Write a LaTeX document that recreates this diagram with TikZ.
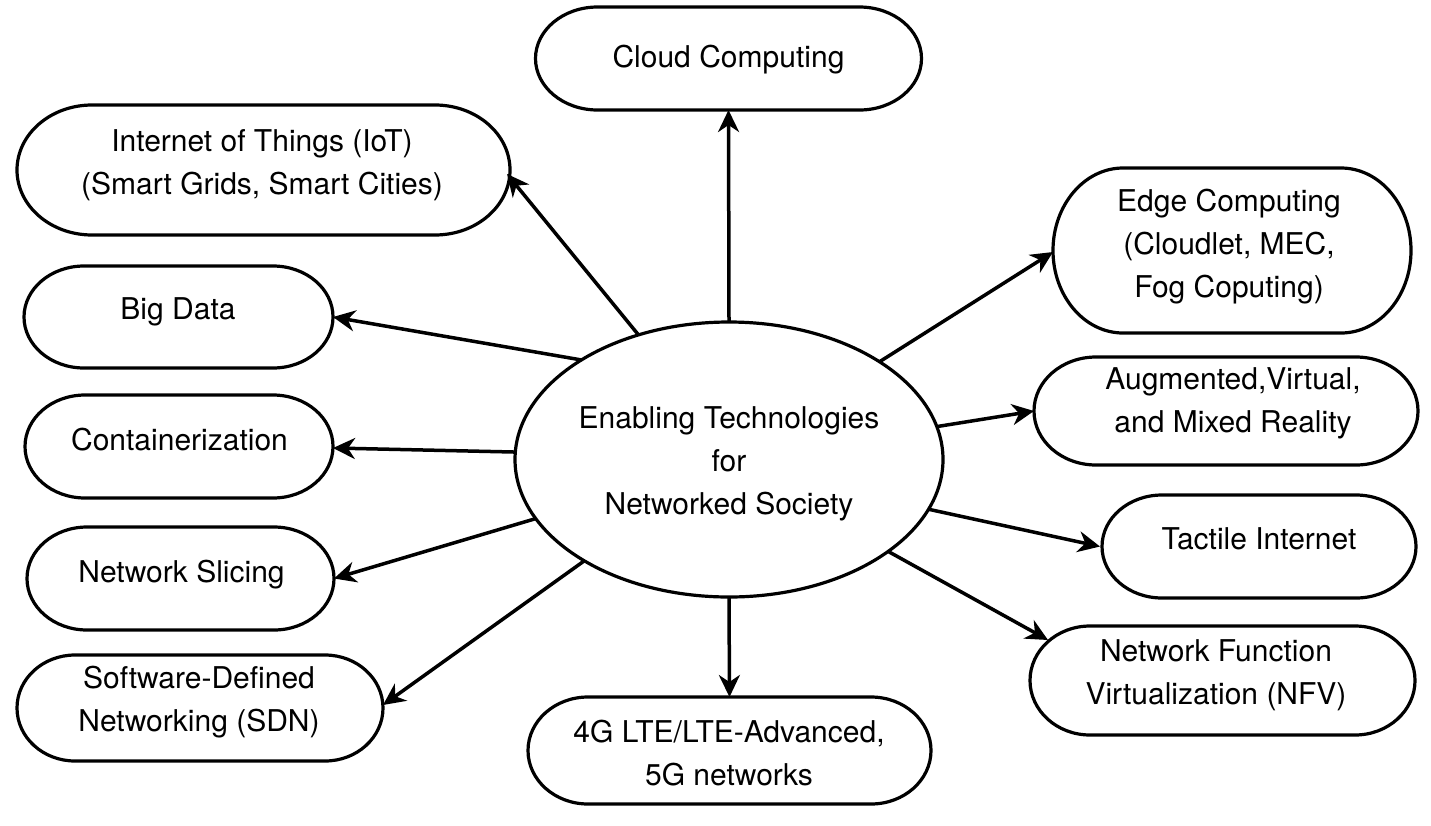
\documentclass[tikz,border=0pt]{standalone}
\usepackage{fontspec}
\setmainfont{TeX Gyre Heros}
\usetikzlibrary{arrows.meta,shapes.geometric}
\tikzset{
  pillbox/.style={rectangle, draw=none, inner sep=0pt, outer sep=0pt},
  pillline/.style={draw=black, line width=3.2pt},
  txt/.style={align=center, inner sep=0pt, font=\fontsize{30}{43}\selectfont},
  conn/.style={line width=3.5pt, -{Stealth[length=22pt,width=21pt,inset=7pt]}},
  hub/.style={ellipse, draw=black, line width=3.2pt, inner sep=0pt, outer sep=0pt,
    minimum width=428pt, minimum height=275pt}
}
% name, x, y, w, h, rx, text x, text y, text
\newcommand\pillnode[9]{%
  \node[pillbox, minimum width=#4pt, minimum height=#5pt] (#1) at (#2,#3) {};
  \draw[pillline] ([xshift=#6pt]#1.north west) -- ([xshift=-#6pt]#1.north east)
    arc[start angle=90, end angle=-90, x radius=#6pt, y radius=#5pt/2]
    -- ([xshift=#6pt]#1.south west)
    arc[start angle=270, end angle=90, x radius=#6pt, y radius=#5pt/2] -- cycle;
  \node[txt] (#1-t) at (#7,#8) {#9};
}
\begin{document}
\begin{tikzpicture}[x=1pt,y=-1pt]
\useasboundingbox (0,0) rectangle (1431,825);

\node[hub] (c) at (729,459.5) {};
\node[txt] (c-t) at (729,464) {Enabling Technologies\\for\\Networked Society};

\pillnode{cloud}{728.5}{58.5}{386}{103}{62}{728.5}{60}{Cloud Computing}
\pillnode{iot}{263.5}{170}{493}{130}{75}{262}{165.5}{Internet of Things (IoT)\\(Smart Grids, Smart Cities)}
\pillnode{bigdata}{178.5}{317}{309}{102}{60}{178}{312}{Big Data}
\pillnode{cont}{179}{446.5}{308}{103}{60}{179.5}{440}{Containerization}
\pillnode{slice}{180.5}{578.5}{307}{103}{60}{181.5}{575}{Network Slicing}
\pillnode{sdn}{200}{708}{366}{106}{58}{199}{702.5}{Software-Defined\\Networking (SDN)}
\pillnode{lte}{729.5}{750.5}{403}{107}{60}{729}{753}{4G LTE/LTE-Advanced,\\5G networks}
\pillnode{edge}{1232}{250.5}{358}{165}{70}{1229}{246.5}{Edge Computing\\(Cloudlet, MEC,\\Fog Coputing)}
\pillnode{xr}{1226}{411}{384}{108}{62}{1233}{403}{Augmented,Virtual,\\and Mixed Reality}
\pillnode{tact}{1259}{546.5}{314}{103}{60}{1259}{539}{Tactile Internet}
\pillnode{nfv}{1222.5}{680.5}{385}{109}{60}{1216}{675}{Network Function\\Virtualization (NFV)}

\draw[conn] (c.90) -- (cloud.south);
\draw[conn] (c.126.9) -- ([xshift=-3pt,yshift=-4pt]iot.east);
\draw[conn] (c.146.1) -- (bigdata.east);
\draw[conn] (c.178.3) -- ([yshift=-1.5pt]cont.east);
\draw[conn] (c.197.5) -- (slice.east);
\draw[conn] (c.215.4) -- ([yshift=3pt]sdn.east);
\draw[conn] (c.270) -- (lte.north);
\draw[conn] (c.33) -- ([yshift=-1.5pt]edge.west);
\draw[conn] (c.9.1) -- (xr.west);
\draw[conn] (c.346.8) -- ([xshift=-2pt]tact.west);
\draw[conn] (c.330.4) -- ([xshift=18pt,yshift=-14pt]nfv.north west);
\end{tikzpicture}
\end{document}
